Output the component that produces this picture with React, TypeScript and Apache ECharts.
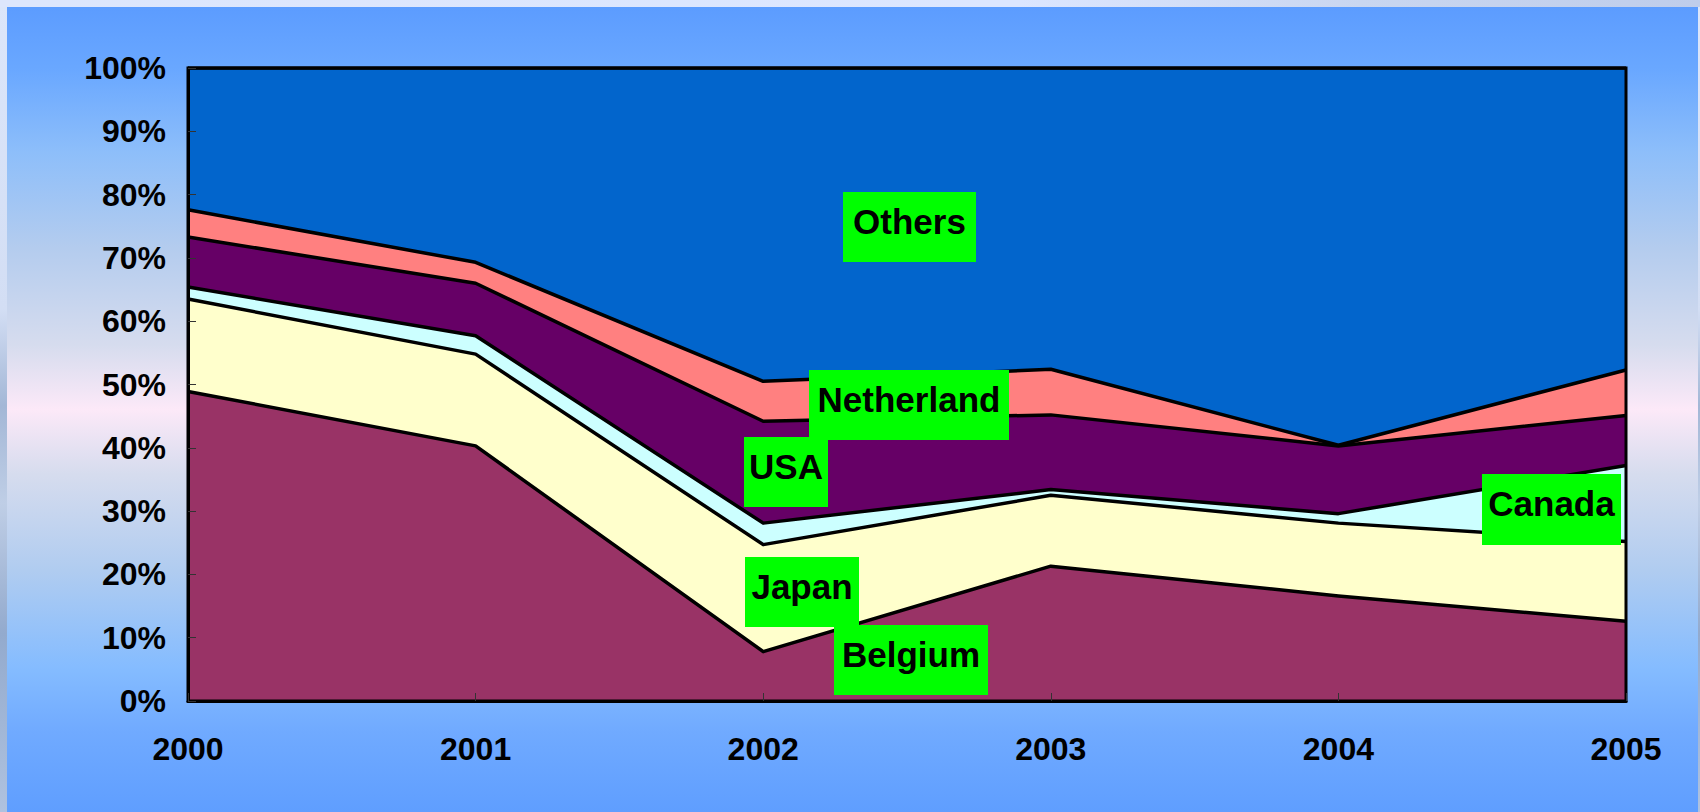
import React, { useEffect, useRef } from "react";
import * as echarts from "echarts";

const years = ["2000", "2001", "2002", "2003", "2004", "2005"];
const belgium = [48.9, 40.3, 7.8, 21.3, 16.6, 12.6];
const japan = [14.6, 14.5, 16.9, 11.2, 11.5, 12.6];
const canada = [1.9, 2.9, 3.4, 0.9, 1.5, 12.0];
const usa = [7.9, 8.3, 16.1, 11.8, 10.7, 7.9];
const netherland = [4.3, 3.3, 6.3, 7.2, 0.1, 7.2];
const others = [22.4, 30.7, 49.5, 47.6, 59.6, 47.7];

const seriesNames = ["Belgium", "Japan", "Canada", "USA", "Netherland", "Others"];
const seriesData = [belgium, japan, canada, usa, netherland, others];
const seriesColors = ["#993366", "#FFFFCC", "#CCFFFF", "#660066", "#FF8080", "#0265CC"];

// annotation boxes (layout only)
const labelBoxes = [
  { text: "Others", x: 843, y: 192, w: 133, h: 70 },
  { text: "Netherland", x: 809, y: 370, w: 200, h: 70 },
  { text: "USA", x: 744, y: 437, w: 84, h: 70 },
  { text: "Japan", x: 745, y: 557, w: 114, h: 70 },
  { text: "Belgium", x: 834, y: 625, w: 154, h: 70 },
  { text: "Canada", x: 1482, y: 474, w: 139, h: 71 },
];

const FONT = "Arial, 'Liberation Sans', sans-serif";

export default function App() {
  const ref = useRef<HTMLDivElement>(null);
  useEffect(() => {
    if (!ref.current) return;
    const chart = echarts.init(ref.current, undefined, { renderer: "svg" });
    const graphics: any[] = [];
    labelBoxes.forEach((b) => {
      graphics.push({
        type: "rect",
        z: 100,
        shape: { x: b.x, y: b.y, width: b.w, height: b.h },
        style: { fill: "#00FF00" },
      });
      graphics.push({
        type: "text",
        z: 101,
        x: b.x + b.w / 2,
        y: b.y + b.h / 2 - 6,
        style: {
          text: b.text,
          fill: "#000",
          font: `bold 35px ${FONT}`,
          textAlign: "center",
          textVerticalAlign: "middle",
        },
      });
    });
    const n = seriesNames.length;
    chart.setOption({
      animation: false,
      backgroundColor: "transparent",
      grid: {
        left: 188,
        right: 74,
        top: 68,
        bottom: 111,
        show: true,
        z: 20,
        backgroundColor: "transparent",
        borderColor: "#000",
        borderWidth: 3,
      },
      xAxis: {
        type: "category",
        data: years,
        boundaryGap: false,
        axisLine: { show: true, lineStyle: { color: "#000", width: 3 } },
        axisTick: { show: true, inside: true, length: 8, lineStyle: { color: "#333", width: 1 } },
        axisLabel: {
          color: "#000",
          fontSize: 32,
          fontWeight: "bold",
          fontFamily: FONT,
          margin: 32,
        },
        splitLine: { show: false },
        z: 20,
      },
      yAxis: {
        type: "value",
        min: 0,
        max: 100,
        interval: 10,
        axisLine: { show: true, lineStyle: { color: "#000", width: 3 } },
        axisTick: { show: true, inside: true, length: 8, lineStyle: { color: "#333", width: 1 } },
        axisLabel: {
          color: "#000",
          fontSize: 32,
          fontWeight: "bold",
          fontFamily: FONT,
          margin: 22,
          formatter: "{value}%",
        },
        splitLine: { show: false },
        z: 20,
      },
      series: seriesNames.map((name, i) => ({
        name,
        type: "line",
        stack: "total",
        data: seriesData[i],
        symbol: "none",
        lineStyle: { color: "#000", width: 3.5, join: "round" },
        areaStyle: { color: seriesColors[i], opacity: 1 },
        itemStyle: { color: seriesColors[i] },
        z: 3 + (n - i),
      })),
      graphic: graphics,
    });
    return () => chart.dispose();
  }, []);

  return (
    <div
      style={{
        position: "absolute",
        left: 0,
        top: 0,
        width: 1700,
        height: 812,
        overflow: "hidden",
        background:
          "linear-gradient(to bottom, #DCE6FA 0%, #D3DEF4 38%, #A3B7D6 50%, #BFCEE6 62%, #93AACD 78%, #AFC2DF 100%)",
      }}
    >
      <div
        style={{
          position: "absolute",
          left: 0,
          top: 0,
          width: 1700,
          height: 7,
          background: "linear-gradient(to right, #DDE6FC 0%, #DCE6FF 60%, #C9D6F0 80%, #BFCDEB 100%)",
        }}
      />
      <div
        style={{
          position: "absolute",
          left: 7,
          top: 7,
          width: 1691,
          height: 805,
          background:
            "linear-gradient(to bottom, #5C9CFF 0%, #6AA8FF 8%, #8DBEFA 18%, #B4CCEE 30%, #D6DCEE 42%, #FCE9F8 50%, #D6DCEE 58%, #B0CCF0 70%, #85BCFF 82%, #70AAFF 90%, #5F9EFF 100%)",
        }}
      />
      <div
        ref={ref}
        style={{ position: "absolute", left: 0, top: 0, width: 1700, height: 812 }}
      />
    </div>
  );
}
